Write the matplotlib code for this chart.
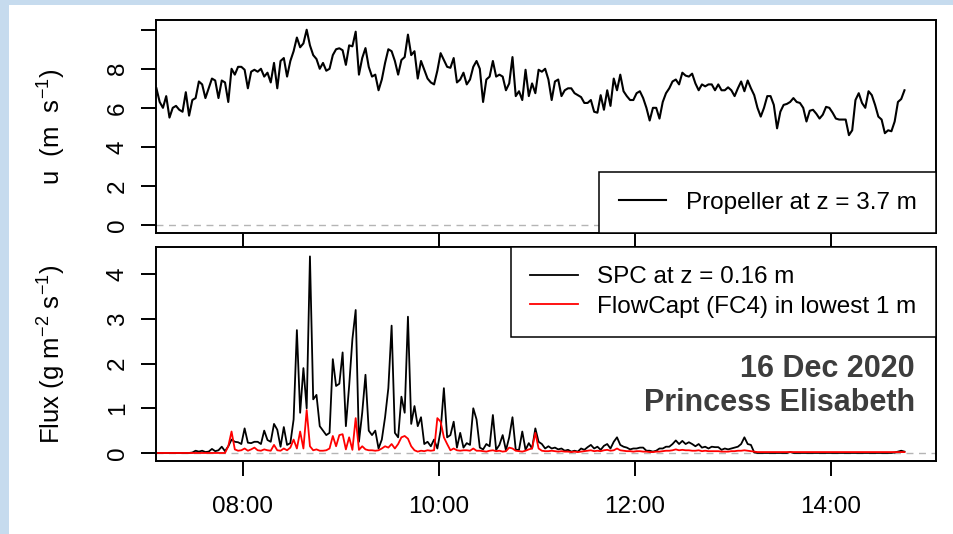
import pandas as pd
import matplotlib
matplotlib.use("Agg")
import matplotlib.pyplot as plt
import matplotlib.dates as mdates
from matplotlib.patches import Rectangle

plt.rcParams['font.family'] = ['Liberation Sans', 'DejaVu Sans']
plt.rcParams['mathtext.fontset'] = 'custom'
plt.rcParams['mathtext.rm'] = 'Liberation Sans'
plt.rcParams['mathtext.it'] = 'Liberation Sans:italic'
plt.rcParams['mathtext.bf'] = 'Liberation Sans:bold'

# 2-min samples, 07:07 -> 14:45 (16 Dec 2020)
times = pd.date_range("2020-12-16 07:07", periods=230, freq="2min")

# wind speed, propeller at 3.7 m (m/s)
u_prop = [
    7.0, 6.3, 6.0, 6.6, 5.5, 6.0, 6.1, 5.9, 5.8, 6.8,
    5.6, 6.4, 6.5, 7.35, 7.2, 6.5, 7.0, 7.5, 7.4, 6.5,
    7.4, 7.3, 6.3, 8.0, 7.7, 8.1, 8.1, 7.95, 7.0, 7.85,
    7.95, 7.85, 8.0, 7.6, 7.8, 7.3, 8.3, 7.0, 8.4, 8.55,
    7.6, 8.4, 8.9, 9.6, 9.1, 9.3, 10.0, 9.2, 8.7, 8.5,
    8.0, 8.3, 7.9, 8.0, 8.7, 9.0, 9.05, 8.95,
    8.2, 9.2, 9.15, 9.9, 7.7, 8.55, 9.06, 8.1, 7.6, 7.7,
    6.9, 7.45, 8.3, 9.0, 8.9, 8.4, 7.7, 8.45, 8.6, 9.75,
    8.7, 8.9, 7.5, 8.4, 7.95, 7.5, 7.3, 7.2, 7.9, 8.8,
    8.45, 8.1, 8.05, 8.55, 7.3, 7.45, 7.8, 7.2, 7.45, 8.1,
    8.4, 8.0, 6.3, 7.45, 7.6, 8.4, 7.6, 7.7, 7.6, 6.9,
    7.25, 8.6, 6.6, 6.85, 6.4, 7.95, 6.6, 7.25,
    6.75, 7.95, 7.85, 8.0, 7.45, 6.4, 7.35, 7.45, 6.6, 6.9,
    7.0, 7.0, 6.75, 6.65, 6.55, 6.25, 6.25, 6.4, 5.8, 5.75,
    6.65, 5.9, 6.9, 6.1, 7.5, 6.9, 7.7, 6.85, 6.6, 6.4,
    6.4, 6.75, 6.85, 6.5, 6.0, 5.35, 6.0, 6.0, 5.45, 6.3,
    6.75, 7.0, 7.35, 7.45, 7.2, 7.8, 7.65, 7.6, 7.75, 7.25,
    6.9, 7.2, 7.1, 7.2, 7.2, 6.9, 7.2, 6.9,
    6.9, 7.05, 6.9, 6.6, 7.0, 7.35, 6.85, 7.4, 7.0, 6.65,
    6.0, 5.55, 6.0, 6.6, 6.6, 6.15, 4.95, 5.8, 6.15, 6.2,
    6.3, 6.5, 6.3, 6.25, 6.0, 5.3, 5.85, 5.9, 5.7, 5.45,
    5.65, 6.05, 6.0, 5.75, 5.45, 5.4, 5.4, 5.4, 4.6, 4.85,
    6.4, 6.75, 6.25, 6.0, 6.85, 6.65, 6.15, 5.55, 5.4, 4.7,
    4.85, 4.8, 5.3, 6.3, 6.45, 6.9,
]

# snow flux, SPC at 0.16 m (g m-2 s-1)
flux_spc = [
    0, 0, 0, 0, 0, 0, 0, 0, 0, 0,
    0, 0.01, 0.05, 0.03, 0.05, 0.02, 0.03, 0.09, 0.04, 0.06,
    0.14, 0.04, 0.15, 0.3, 0.25, 0.24, 0.2, 0.55, 0.23, 0.22,
    0.25, 0.25, 0.2, 0.5, 0.29, 0.25, 0.65, 0.52, 0.14, 0.58,
    0.18, 0.22, 0.75, 2.75, 0.9, 1.9, 1.0, 4.4, 1.2, 1.3,
    0.6, 0.5, 0.4, 0.45, 2.1, 1.5, 1.55, 2.25, 0.6, 1.5,
    2.55, 3.2, 0.25, 0.9, 1.75, 0.5, 0.4, 0.5, 0.1, 0.3,
    0.8, 1.45, 2.85, 0.45, 0.35, 1.26, 0.9, 3.05, 0.65, 1.05,
    0.6, 0.8, 0.2, 0.25, 0.15, 0.3, 0.1, 0.5, 1.45, 0.35,
    0.4, 0.7, 0.12, 0.45, 0.12, 0.22, 0.18, 1.0, 0.75, 0.12,
    0.08, 0.2, 0.15, 0.85, 0.07, 0.18, 0.4, 0.06, 0.35, 0.8,
    0.07, 0.07, 0.48, 0.07, 0.22, 0.1, 0.55, 0.25, 0.2, 0.1,
    0.15, 0.1, 0.12, 0.08, 0.1, 0.05, 0.07, 0.03, 0.05, 0.03,
    0.1, 0.07, 0.13, 0.18, 0.1, 0.14, 0.07, 0.16, 0.2, 0.1,
    0.25, 0.35, 0.18, 0.14, 0.12, 0.08, 0.1, 0.1, 0.12, 0.12,
    0.05, 0.05, 0.03, 0.05, 0.1, 0.1, 0.14, 0.14, 0.2, 0.28,
    0.2, 0.27, 0.2, 0.24, 0.2, 0.15, 0.2, 0.12, 0.14, 0.1,
    0.14, 0.13, 0.13, 0.07, 0.1, 0.08, 0.1, 0.12, 0.14, 0.2,
    0.35, 0.2, 0.18, 0.01, 0, 0, 0, 0, 0, 0,
    0, 0, 0, 0, 0.02, 0, 0, 0, 0, 0,
    0, 0, 0, 0, 0, 0, 0, 0, 0, 0,
    0, 0, 0, 0, 0, 0, 0, 0, 0, 0,
    0, 0, 0, 0, 0, 0, 0.01, 0.03, 0.05, 0.03,
]

# snow flux, FlowCapt FC4, lowest 1 m (g m-2 s-1)
flux_fc4 = [
    0, 0, 0, 0, 0, 0, 0, 0, 0, 0,
    0, 0, 0, 0, 0, 0, 0, 0, 0, 0,
    0, 0, 0.15, 0.48, 0.08, 0.05, 0.06, 0.1, 0.05, 0.08,
    0.12, 0.06, 0.05, 0.08, 0.06, 0.05, 0.18, 0.06, 0.05, 0.1,
    0.06, 0.12, 0.3, 0.1, 0.48, 0.1, 0.96, 0.15, 0.06, 0.08,
    0.05, 0.05, 0.06, 0.1, 0.38, 0.15, 0.4, 0.42, 0.08, 0.35,
    0.07, 0.78, 0.07, 0.15, 0.08, 0.06, 0.06, 0.05, 0.06, 0.1,
    0.15, 0.12, 0.2, 0.1, 0.2, 0.35, 0.38, 0.32, 0.15, 0.06,
    0.03, 0.05, 0.04, 0.06, 0.05, 0.06, 0.78, 0.7, 0.35, 0.2,
    0.06, 0.1, 0.06, 0.05, 0.06, 0.06, 0.05, 0.1, 0.05, 0.05,
    0.04, 0.03, 0.05, 0.06, 0.04, 0.05, 0.03, 0.04, 0.12, 0.1,
    0.05, 0.04, 0.03, 0.05, 0.08, 0.1, 0.45, 0.1, 0.05, 0.04,
    0.04, 0.05, 0.04, 0.03, 0.04, 0.03, 0.03, 0.02, 0.03, 0.02,
    0.03, 0.04, 0.05, 0.06, 0.04, 0.05, 0.04, 0.06, 0.07, 0.05,
    0.06, 0.1, 0.06, 0.05, 0.04, 0.04, 0.03, 0.04, 0.04, 0.03,
    0.03, 0.02, 0.02, 0.03, 0.03, 0.04, 0.05, 0.05, 0.06, 0.08,
    0.06, 0.07, 0.06, 0.06, 0.05, 0.05, 0.06, 0.04, 0.05, 0.04,
    0.04, 0.04, 0.04, 0.03, 0.03, 0.03, 0.04, 0.04, 0.05, 0.05,
    0.06, 0.05, 0.04, 0.03, 0.02, 0.02, 0.02, 0.02, 0.02, 0.02,
    0.02, 0.02, 0.02, 0.02, 0.02, 0.02, 0.02, 0.02, 0.02, 0.02,
    0.02, 0.02, 0.02, 0.02, 0.02, 0.02, 0.02, 0.02, 0.02, 0.02,
    0.02, 0.02, 0.02, 0.02, 0.02, 0.02, 0.02, 0.02, 0.02, 0.02,
    0.02, 0.02, 0.02, 0.02, 0.02, 0.02, 0.02, 0.02, 0.02, 0.02,
]

tick_times = pd.to_datetime(["2020-12-16 08:00", "2020-12-16 10:00",
                             "2020-12-16 12:00", "2020-12-16 14:00"])
x_lim = (pd.Timestamp("2020-12-16 07:06:44"), pd.Timestamp("2020-12-16 15:04:17"))
fs = 17.5

fig = plt.figure(figsize=(9.54, 5.34), dpi=100)
fig.patch.set_facecolor('#c6dbee')
fig.add_artist(Rectangle((9 / 954, 0), 1, 529 / 534, transform=fig.transFigure,
                         facecolor='white', edgecolor='none', zorder=-1))

ax1 = fig.add_axes([0.1635, 0.5637, 0.8176, 0.3989])
ax2 = fig.add_axes([0.1635, 0.1367, 0.8176, 0.4007])

for ax in (ax1, ax2):
    ax.axhline(0, color='#b5b5b5', lw=1.0, ls=(0, (5, 4)), zorder=1)
    ax.set_xlim(x_lim)
    ax.set_xticks(tick_times)
    ax.xaxis.set_major_formatter(mdates.DateFormatter('%H:%M'))
    for s in ax.spines.values():
        s.set_linewidth(1.4)
    ax.tick_params(direction='out', length=10.5, width=1.4, labelsize=fs)
    ax.tick_params(axis='y', labelrotation=90, pad=9)
    ax.tick_params(axis='x', pad=15)

# top: wind speed
ax1.plot(times, u_prop, color='black', lw=1.5, label='Propeller at z = 3.7 m')
ax1.set_ylim(-0.41, 10.5)
ax1.set_yticks([0, 2, 4, 6, 8, 10])
ax1.set_yticklabels(['0', '2', '4', '6', '8', ''])
ax1.tick_params(labelbottom=False)
ax1.set_ylabel("u  (m  s$^{-1}$)", fontsize=18.5)

# bottom: snow flux
ax2.plot(times, flux_spc, color='black', lw=1.3, label='SPC at z = 0.16 m')
ax2.plot(times, flux_fc4, color='red', lw=1.3, label='FlowCapt (FC4) in lowest 1 m')
ax2.set_ylim(-0.18, 4.61)
ax2.set_yticks([0, 1, 2, 3, 4])
ax2.set_ylabel("Flux (g m$^{-2}$ s$^{-1}$)", fontsize=18.5)

for ax in (ax1, ax2):
    for lab in ax.get_yticklabels():
        lab.set_va('center')
    ax.yaxis.set_label_coords(-0.134, 0.5)
    ax.yaxis.label.set_va('center')

leg1 = ax1.legend(loc='lower right', borderaxespad=0, fancybox=False,
                  edgecolor='black', framealpha=1, fontsize=fs,
                  handlelength=1.95, handletextpad=0.8, borderpad=0.8)
leg1.get_frame().set_linewidth(1.1)

leg2 = ax2.legend(loc='upper right', borderaxespad=0, fancybox=False,
                  edgecolor='black', framealpha=1, fontsize=fs,
                  handlelength=1.95, handletextpad=0.8, borderpad=0.8,
                  labelspacing=0.3)
leg2.get_frame().set_linewidth(1.1)

ax2.text(0.973, 0.35, "16 Dec 2020\nPrincess Elisabeth", transform=ax2.transAxes,
         ha='right', va='center', fontsize=22, fontweight='bold',
         color='#3d3d3d', linespacing=1.2)

fig.savefig("out.png", dpi=100, facecolor=fig.get_facecolor())
